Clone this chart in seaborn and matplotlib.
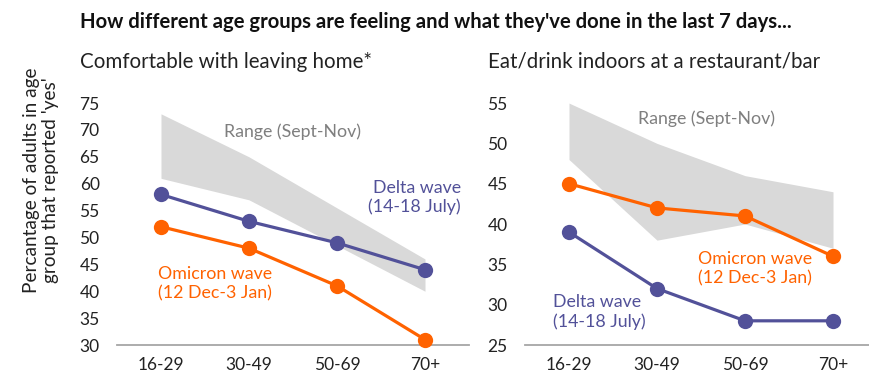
import matplotlib
matplotlib.use("Agg")
import matplotlib.pyplot as plt
import seaborn as sns
import pandas as pd
import numpy as np

sns.set_theme(style="white")
plt.rcParams['font.family'] = ['Lato', 'DejaVu Sans']

ages = ["16-29", "30-49", "50-69", "70+"]

# Comfortable with leaving home
home_delta = [58, 53, 49, 44]
home_omicron = [52, 48, 41, 31]
home_range_low = [61, 57, 48.5, 40]
home_range_high = [73, 65, 55.5, 46]

# Eat/drink indoors
eat_delta = [39, 32, 28, 28]
eat_omicron = [45, 42, 41, 36]
eat_range_low = [48, 38, 40, 37]
eat_range_high = [55, 50, 46, 44]

ORANGE = "#FF6200"
PURPLE = "#525199"
GREY_BAND = "#D9D9D9"
GREY_TEXT = "#7F7F7F"
AXIS_GREY = "#A6A6A6"

fig = plt.figure(figsize=(8.7, 3.76), dpi=100)

W = 352 / 870
H = (345 - 95) / 376
B = 1 - 345 / 376
ax1 = fig.add_axes([117 / 870, B, W, H])
ax2 = fig.add_axes([525 / 870, B, W, H])

x = np.arange(len(ages))

def draw(ax, delta, omicron, lo, hi, ylim, yticks):
    ax.fill_between(x, lo, hi, color=GREY_BAND, linewidth=0, zorder=1)
    df = pd.DataFrame({"x": np.concatenate([x, x]),
                       "y": delta + omicron,
                       "s": ["Delta"] * 4 + ["Omicron"] * 4})
    sns.lineplot(data=df, x="x", y="y", hue="s",
                 palette={"Delta": PURPLE, "Omicron": ORANGE},
                 marker="o", markersize=11, markeredgewidth=0,
                 linewidth=2.3, legend=False, ax=ax, zorder=3, clip_on=False)
    ax.set_xlim(-0.5, 3.5)
    ax.set_ylim(*ylim)
    ax.set_yticks(yticks)
    ax.set_yticklabels([str(v) for v in yticks])
    ax.set_xticks([-0.5, 0.5, 1.5, 2.5, 3.5])
    ax.set_xticklabels([])
    ax.set_xticks(x, minor=True)
    ax.set_xticklabels(ages, minor=True)
    ax.tick_params(axis="x", which="major", length=4, width=1, color=AXIS_GREY, direction="out")
    ax.tick_params(axis="x", which="minor", length=0, pad=9, labelsize=12.5, labelcolor="#222222")
    ax.tick_params(axis="y", length=0, pad=12.5, labelsize=12.5, labelcolor="#222222")
    for s in ["top", "right", "left"]:
        ax.spines[s].set_visible(False)
    ax.spines["bottom"].set_color(AXIS_GREY)
    ax.spines["bottom"].set_linewidth(1.3)
    ax.set_xlabel("")
    ax.set_ylabel("")
    ax.patch.set_alpha(0)

draw(ax1, home_delta, home_omicron, home_range_low, home_range_high,
     (30, 76.5), [30, 35, 40, 45, 50, 55, 60, 65, 70, 75])
draw(ax2, eat_delta, eat_omicron, eat_range_low, eat_range_high,
     (25, 56.0), [25, 30, 35, 40, 45, 50, 55])

# annotations left
ax1.text(1.49, 69.6, "Range (Sept-Nov)", color=GREY_TEXT, fontsize=12.8, ha="center", va="center")
ax1.text(3.41, 57.5, "Delta wave\n(14-18 July)", color=PURPLE, fontsize=12.8, ha="right", va="center",
         multialignment="right", linespacing=1.2)
ax1.text(-0.03, 41.4, "Omicron wave\n(12 Dec-3 Jan)", color=ORANGE, fontsize=12.8, ha="left", va="center",
         linespacing=1.2)

# annotations right
ax2.text(1.56, 53.0, "Range (Sept-Nov)", color=GREY_TEXT, fontsize=12.8, ha="center", va="center")
ax2.text(1.47, 34.45, "Omicron wave\n(12 Dec-3 Jan)", color=ORANGE, fontsize=12.8, ha="left", va="center",
         linespacing=1.2)
ax2.text(-0.18, 29.1, "Delta wave\n(14-18 July)", color=PURPLE, fontsize=12.8, ha="left", va="center",
         linespacing=1.2)

# titles
fig.text(80 / 870, 1 - 22 / 376, "How different age groups are feeling and what they've done in the last 7 days...",
         fontsize=14.6, fontweight="bold", color="#111111", ha="left", va="center")
fig.text(80 / 870, 1 - 62 / 376, "Comfortable with leaving home*", fontsize=14.8, color="#222222",
         ha="left", va="center")
fig.text(488 / 870, 1 - 62 / 376, "Eat/drink indoors at a restaurant/bar", fontsize=14.8, color="#222222",
         ha="left", va="center")

fig.text(41 / 870, 1 - 180 / 376, "Percantage of adults in age\ngroup that reported 'yes'", fontsize=13.7,
         color="#222222", rotation=90, ha="center", va="center", linespacing=1.1)

fig.savefig("out.png", dpi=100)
